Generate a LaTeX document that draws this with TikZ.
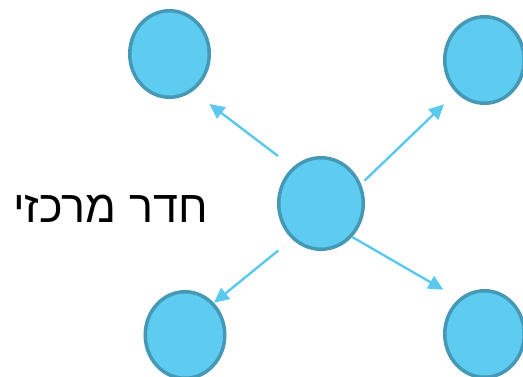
\documentclass[tikz,border=0pt]{standalone}
\usepackage{fontspec}
\usepackage{tikz}
\usetikzlibrary{shapes.geometric,arrows.meta}
\TeXXeTstate=1
\newfontfamily\hebfont[Script=Hebrew]{Liberation Sans}
\definecolor{roomfill}{HTML}{5DCCF0}
\definecolor{roomline}{HTML}{4599B7}
\definecolor{linkcol}{HTML}{5BC9EE}
\tikzset{
  room/.style={ellipse, draw=roomline, fill=roomfill, line width=3.5pt, inner sep=0pt,
    minimum width=79.5pt, minimum height=86.5pt},
  link/.style={draw=linkcol, line width=2.4pt, -{Triangle[length=15pt,width=14pt]}},
}
\begin{document}
\begin{tikzpicture}[x=1pt, y=-1pt]
  \useasboundingbox (0,0) rectangle (523,377);

  % rooms
  \node[room, minimum width=84.5pt, minimum height=91.5pt] (hub) at (321,203.5) {}; %
  \node[room] (room-nw) at (169.5,54) {}; %
  \node[room] (room-ne) at (484.5,60) {}; %
  \node[room] (room-sw) at (185,335) {}; %
  \node[room] (room-se) at (484.5,334) {}; %

  % label
  \node[anchor=base, font=\hebfont\fontsize{45}{52}\selectfont, inner sep=0pt] (hub-label) at (110.5,223) {\beginR חדר מרכזי\endR}; %

  % links
  \draw[link, shorten <=18.5pt, shorten >=21pt] (hub.128) -- (room-nw.-58) ; %
  \draw[link, shorten <=4.7pt, shorten >=16.6pt] (hub.26.6) -- (room-ne.-131) ; %
  \draw[link, shorten <=17.7pt] (hub.-129.5) -- (room-sw.48.8) ; %
  \draw[link, shorten >=17.8pt] (hub.-47.3) -- (room-se.126.5) ; %

\end{tikzpicture}
\end{document}
